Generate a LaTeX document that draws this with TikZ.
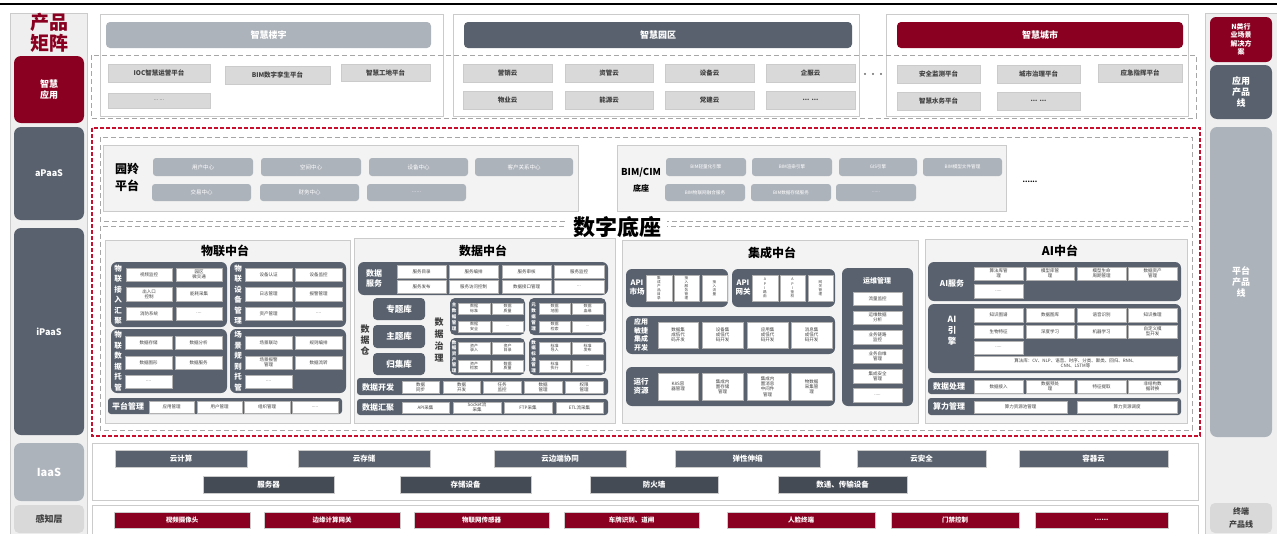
\documentclass[tikz,border=0pt]{standalone}
\usepackage{fontspec}
\setmainfont{Noto Sans CJK SC}
\usetikzlibrary{positioning}

\definecolor{brandred}{HTML}{8A0020}
\definecolor{slate}{HTML}{58616D}
\definecolor{deepslate}{HTML}{454B55}
\definecolor{mist}{HTML}{ADB3BB}
\definecolor{chip}{HTML}{D9D9D9}
\definecolor{rim}{HTML}{CBCBCB}
\definecolor{pane}{HTML}{F3F3F3}
\definecolor{side}{HTML}{EFEFEF}
\definecolor{alarm}{HTML}{C8102E}
\definecolor{ink}{HTML}{404040}

% box from its top left to its bottom right corner, in pixels
\newcommand{\blk}[7]{\node[#1,anchor=north west,minimum width={(#5)-(#3)},minimum height={(#6)-(#4)}] (#2) at (#3,#4) {#7};}

\tikzset{
  every node/.style={inner sep=0pt,outer sep=0pt,align=center},
  sidebar/.style={fill=side,draw=rim,line width=.6pt},
  tile/.style={rounded corners=7pt,text=white,font=\bfseries\fontsize{9}{11}\selectfont},
  redtile/.style={tile,fill=brandred},
  slatetile/.style={tile,fill=slate},
  misttile/.style={tile,fill=mist},
  chiptile/.style={tile,fill=chip,text=ink},
  group/.style={draw=rim,fill=white,line width=.6pt},
  headbar/.style={rounded corners=4pt,text=white,font=\bfseries\fontsize{9}{11}\selectfont},
  appitem/.style={fill=chip,draw=rim,line width=.4pt,text=ink,font=\bfseries\fontsize{6.5}{8}\selectfont},
  greydash/.style={draw=gray!70,dash pattern=on 5pt off 3pt,line width=.8pt},
  reddash/.style={draw=alarm,dash pattern=on 4pt off 2pt,line width=1.5pt},
  panel/.style={fill=pane,draw=rim,line width=.6pt},
  pill/.style={fill=mist,rounded corners=3pt,text=white,font=\fontsize{5.5}{6.5}\selectfont},
  block/.style={fill=slate,rounded corners=6pt},
  bar/.style={fill=slate,rounded corners=3pt},
  wbox/.style={fill=white,draw=gray!60,line width=.4pt,text=ink,font=\fontsize{4.5}{5.2}\selectfont},
  blabel/.style={text=white,font=\bfseries\fontsize{7.5}{9}\selectfont},
  vlabel/.style={text=white,font=\bfseries\fontsize{7.5}{10.5}\selectfont},
  hubtitle/.style={font=\bfseries\fontsize{12}{14}\selectfont},
  storebox/.style={fill=slate,rounded corners=4pt,text=white,font=\bfseries\fontsize{8.5}{10}\selectfont},
  cloudbox/.style={fill=slate,draw=rim,line width=.4pt,text=white,font=\bfseries\fontsize{7.5}{9}\selectfont},
  devbox/.style={cloudbox,fill=deepslate},
  sensorbox/.style={cloudbox,fill=brandred,font=\bfseries\fontsize{6.5}{8}\selectfont}
}

\begin{document}
\begin{tikzpicture}[x=1pt,y=-1pt]
\useasboundingbox (0,0) rectangle (1277,533);
\draw[line width=2.6pt] (0,4) -- (1277,4);

% side columns
\blk{sidebar}{leftcol}{10}{13}{87}{540}{}
\blk{sidebar}{rightcol}{1205}{13}{1277}{540}{}
\node[text=brandred,font=\bfseries\fontsize{19}{21}\selectfont] (matrix) at (49,33) {产品\\矩阵};
\blk{redtile}{smart}{14}{56}{84}{123}{智慧\\应用}
\blk{slatetile}{apaas}{14}{127}{84}{220}{aPaaS}
\blk{slatetile}{ipaas}{14}{228}{84}{435}{iPaaS}
\blk{misttile,font=\bfseries\fontsize{11}{13}\selectfont}{iaas}{14}{443}{84}{501}{IaaS}
\blk{chiptile,rounded corners=5pt}{sense}{14}{505}{84}{533}{感知层}
\blk{redtile,rounded corners=6pt,font=\bfseries\fontsize{7}{8.5}\selectfont}{nsol}{1210}{17}{1272}{62}{N类行\\业场景\\解决方\\案}
\blk{slatetile}{appline}{1210}{65}{1272}{119}{应用\\产品\\线}
\blk{misttile}{platline}{1210}{127}{1272}{437}{平台\\产品\\线}
\blk{chiptile,rounded corners=5pt,font=\bfseries\fontsize{8}{13}\selectfont}{termline}{1210}{503}{1272}{533}{终端\\产品线}

% smart applications
\blk{group}{bldg}{100}{14}{443}{116}{}
\blk{headbar,fill=mist}{bldghd}{106}{22}{431}{48}{智慧楼宇}
\blk{appitem}{ioc}{108}{64}{210}{82}{IOC智慧运营平台}
\blk{appitem}{twin}{225}{66}{330}{84}{BIM数字孪生平台}
\blk{appitem}{site}{341}{64}{430}{81}{智慧工地平台}
\blk{appitem,font=\fontsize{5}{6}\selectfont}{bldgmore}{108}{93}{210}{108}{... ...}

\blk{group}{park}{453}{14}{859}{116}{}
\blk{headbar,fill=slate}{parkhd}{464}{22}{852}{48}{智慧园区}
\foreach \nm/\xa/\xb/\ya/\yb/\tx in {mkt/463/552/64/82/营销云, asset/565/653/64/82/资管云,
    equip/665/754/64/82/设备云, biz/766/855/64/82/企服云, prop/463/552/91/109/物业云,
    energy/565/653/91/109/能源云, party/665/754/91/109/党建云, parkmore/766/855/91/109/{... ...}}
  {\blk{appitem}{\nm}{\xa}{\ya}{\xb}{\yb}{\tx}}
\node[text=gray,font=\bfseries\fontsize{8}{8}\selectfont] (gap) at (873,75) {···};

\blk{group}{city}{886}{14}{1188}{116}{}
\blk{headbar,fill=brandred}{cityhd}{897}{22}{1183}{48}{智慧城市}
\foreach \nm/\xa/\xb/\ya/\yb/\tx in {safe/897/980/65/83/安全监测平台, govern/997/1080/65/83/城市治理平台,
    rescue/1098/1182/64/82/应急指挥平台, water/897/980/92/110/智慧水务平台, citymore/997/1080/92/110/{... ...}}
  {\blk{appitem}{\nm}{\xa}{\ya}{\xb}{\yb}{\tx}}
\draw[greydash] (91,55) rectangle (1196,118);

% digital base
\draw[reddash] (92,128) rectangle (1200,436);
\draw[greydash] (100,137) rectangle (1192,221);
\draw[greydash] (100,226) rectangle (1192,430);

\blk{panel}{yuanling}{103}{145}{578}{211}{}
\node[font=\bfseries\fontsize{12}{17}\selectfont] (yllbl) at (127,177) {园羚\\平台};
\foreach \nm/\xa/\xb/\ya/\yb/\tx in {user/153/253/158/176/用户中心, space/261/361/158/176/空间中心,
    device/369/468/158/176/设备中心, crm/475/573/158/176/客户关系中心, trade/152/251/184/201/交易中心,
    finance/260/359/184/201/财务中心, ylmore/367/466/184/201/{......}}
  {\blk{pill}{\nm}{\xa}{\ya}{\xb}{\yb}{\tx}}

\blk{panel}{bimcim}{617}{145}{1006}{211}{}
\node[font=\bfseries\fontsize{9.5}{16}\selectfont] (bimlbl) at (641,180) {BIM/CIM\\\fontsize{8}{10}\selectfont 底座};
\foreach \nm/\xa/\xb/\ya/\yb/\tx in {light/666/746/158/176/BIM轻量化引擎, render/752/832/158/176/BIM渲染引擎,
    gis/839/917/158/176/GIS引擎, model/923/1002/158/176/BIM模型文件管理, fuse/665/745/184/201/BIM物联网融合服务,
    store/751/831/184/201/BIM数据存储服务, bimmore/836/916/184/201/{......}}
  {\blk{pill,font=\fontsize{4.6}{5.5}\selectfont}{\nm}{\xa}{\ya}{\xb}{\yb}{\tx}}
\node[font=\bfseries\fontsize{7}{7}\selectfont] (apmore) at (1030,182) {......};
\node[fill=white,inner xsep=6pt,font=\bfseries\fontsize{22}{24}\selectfont] (base) at (617,227) {数字底座};

% IoT hub
\blk{panel}{iot}{105}{240}{350}{423}{}
\node[hubtitle] (iottitle) at (225,251) {物联中台};
\blk{block}{iotin}{111}{262}{227}{327}{}
\node[vlabel] (iotinlbl) at (118,294.5) {物\\联\\接\\入\\汇\\聚};
\blk{block}{iotdev}{230}{262}{346}{327}{}
\node[vlabel] (iotdevlbl) at (238,294.5) {物\\联\\设\\备\\管\\理};
\blk{block}{iotdata}{111}{329}{227}{393}{}
\node[vlabel] (iotdatalbl) at (118,361) {物\\联\\数\\据\\托\\管};
\blk{block}{iotrule}{230}{329}{346}{393}{}
\node[vlabel] (iotrulelbl) at (238,361) {场\\景\\规\\则\\托\\管};
\foreach \nm/\xa/\xb/\ya/\yb/\tx in {
    video/126/172/268/281/视频监控, traffic/176/222/268/281/{园区\\微交通},
    gate/126/172/287/301/{出入口\\控制}, meter/176/222/287/301/能耗采集,
    fire/126/172/307/320/消防系统, inmore/176/222/307/320/{....},
    auth/245/292/268/281/设备认证, watch/295/342/268/281/设备监控,
    log/245/292/287/301/日志管理, alert/295/342/287/301/报警管理,
    prop/245/292/307/320/资产管理, devmore/295/342/307/320/{....},
    keep/125/172/336/349/数据存储, anal/175/222/336/349/数据分析,
    graph/125/172/356/369/数据图形, serve/175/222/356/369/数据服务,
    datamore/125/172/375/388/{....},
    link/245/292/336/349/场景联动, orch/295/342/336/349/规则编排,
    scal/245/292/356/369/{场景报警\\管理}, flow/295/342/356/369/数据流转,
    rulemore/245/292/375/388/{....}}
  {\blk{wbox}{\nm}{\xa}{\ya}{\xb}{\yb}{\tx}}
\blk{bar}{iotmgr}{108}{398}{342}{414}{}
\node[blabel,font=\bfseries\fontsize{8}{9}\selectfont] (iotmgrlbl) at (128,406) {平台管理};
\foreach \nm/\xa/\xb/\tx in {appmgr/149/194/应用管理, usermgr/197/242/用户管理, orgmgr/244/290/组织管理, mgrmore/292/338/{.....}}
  {\blk{wbox}{\nm}{\xa}{401}{\xb}{413}{\tx}}

% data hub
\blk{panel}{data}{354}{238}{615}{423}{}
\node[hubtitle] (datatitle) at (483,251) {数据中台};
\blk{block}{dsvc}{358}{262}{608}{295}{}
\node[blabel,font=\bfseries\fontsize{8}{10}\selectfont] (dsvclbl) at (374,278) {数据\\服务};
\foreach \nm/\xa/\xb/\ya/\yb/\tx in {
    catalog/397/446/265/278/服务目录, compose/449/498/265/278/服务编排,
    review/502/551/265/278/服务审核, monitor/554/604/265/278/服务监控,
    publish/397/446/280/293/服务发布, access/449/498/280/293/服务访问控制,
    quality/502/551/280/293/数据接口管理, svcmore/554/604/280/293/{...}}
  {\blk{wbox}{\nm}{\xa}{\ya}{\xb}{\yb}{\tx}}
\node[text=ink,font=\bfseries\fontsize{9}{11}\selectfont] (whlbl) at (365,340) {数\\据\\仓};
\blk{storebox}{topic}{373}{298}{425}{320}{专题库}
\blk{storebox}{subject}{373}{325}{425}{348}{主题库}
\blk{storebox}{collect}{373}{353}{425}{375}{归集库}
\node[text=ink,font=\bfseries\fontsize{9}{12}\selectfont] (govlbl) at (439,340) {数\\据\\治\\理};
\blk{block,rounded corners=5pt}{master}{450}{298}{525}{335}{}
\blk{block,rounded corners=5pt}{meta}{529}{298}{606}{335}{}
\blk{block,rounded corners=5pt}{assets}{450}{338}{525}{375}{}
\blk{block,rounded corners=5pt}{standard}{529}{338}{606}{375}{}
\node[vlabel,font=\bfseries\fontsize{4.5}{6}\selectfont] (masterlbl) at (454,316.5) {主\\数\\据\\管\\理};
\node[vlabel,font=\bfseries\fontsize{4.5}{6}\selectfont] (metalbl) at (533.5,316.5) {元\\数\\据\\管\\理};
\node[vlabel,font=\bfseries\fontsize{4.5}{5.6}\selectfont] (assetslbl) at (454,356.5) {数\\据\\资\\产\\管\\理};
\node[vlabel,font=\bfseries\fontsize{4.5}{5.6}\selectfont] (standardlbl) at (533.5,356.5) {数\\据\\标\\准\\管\\理};
\foreach \nm/\xa/\xb/\ya/\yb/\tx in {
    std/458/490/303/314/{数据\\标准}, qual/492/523/303/314/{数据\\质量},
    sec/458/490/321/332/{数据\\安全}, mastermore/492/523/321/332/{...},
    map/539/570/303/314/{数据\\地图}, lineage/572/603/303/314/{数据\\血缘},
    search/539/570/321/332/{数据\\检索}, metamore/572/603/321/332/{...},
    enter/458/490/342/354/{资产\\录入}, dir/492/523/342/354/{资产\\目录},
    find/458/490/360/372/{资产\\检索}, aqual/492/523/360/372/{数据\\质量},
    import/539/570/342/354/{标准\\导入}, release/572/603/342/354/{标准\\发布},
    apply/539/570/360/372/{标准\\执行}, stdmore/572/603/360/372/{...}}
  {\blk{wbox,font=\fontsize{4}{4.6}\selectfont}{\nm}{\xa}{\ya}{\xb}{\yb}{\tx}}
\blk{bar}{ddev}{357}{378}{608}{395}{}
\node[blabel,font=\bfseries\fontsize{8}{9}\selectfont] (ddevlbl) at (378,387) {数据开发};
\foreach \nm/\xa/\xb/\tx in {sync/402/439/{数据\\同步}, develop/443/480/{数据\\开发}, task/483/521/{任务\\监控},
    dmgr/524/562/{数据\\管理}, perm/565/603/{权限\\管理}}
  {\blk{wbox}{\nm}{\xa}{381}{\xb}{393}{\tx}}
\blk{bar}{dgather}{357}{399}{608}{415}{}
\node[blabel,font=\bfseries\fontsize{8}{9}\selectfont] (dgatherlbl) at (378,407) {数据汇聚};
\foreach \nm/\xa/\xb/\tx in {api/402/449/API采集, socket/453/501/{Socket流\\采集}, ftp/504/552/FTP采集, etl/556/603/ETL流采集}
  {\blk{wbox}{\nm}{\xa}{402}{\xb}{413}{\tx}}

% integration hub
\blk{panel}{intg}{622}{240}{918}{423}{}
\node[hubtitle] (intgtitle) at (772,253) {集成中台};
\blk{block}{apimkt}{626}{269}{728}{307}{}
\node[blabel] (apimktlbl) at (637,288) {API\\市场};
\blk{block}{apigw}{732}{269}{835}{307}{}
\node[blabel] (apigwlbl) at (743,288) {API\\网关};
\foreach \nm/\xa/\xb/\tx in {prodlist/646/672/{集\\成\\产\\品\\目\\录}, svcmgr/674/699/{接\\入\\服\\务\\管\\理},
    inflow/702/727/{接\\入\\流\\量}, route/752/778/{A\\P\\I\\路\\由}, guard/780/805/{A\\P\\I\\鉴\\权},
    gwmgr/808/833/{网\\关\\管\\理}}
  {\blk{wbox,font=\fontsize{3.6}{4.1}\selectfont}{\nm}{\xa}{275}{\xb}{301}{\tx}}
\blk{block}{agile}{626}{316}{835}{354}{}
\node[blabel,font=\bfseries\fontsize{7}{8.5}\selectfont] (agilelbl) at (641,335) {应用\\敏捷\\集成\\开发};
\blk{block}{runres}{626}{367}{835}{406}{}
\node[blabel] (runreslbl) at (641,386.5) {运行\\资源};
\foreach \nm/\xa/\xb/\tx in {dlc/658/698/{数据集\\成低代\\码开发}, elc/702/743/{设备集\\成低代\\码开发},
    alc/747/788/{应用集\\成低代\\码开发}, mlc/791/832/{消息集\\成低代\\码开发}}
  {\blk{wbox}{\nm}{\xa}{322}{\xb}{348}{\tx}}
\foreach \nm/\xa/\xb/\tx in {k8s/658/698/{K8S容\\器管理}, istore/702/743/{集成内\\置存储\\管理},
    imsg/747/788/{集成内\\置消息\\中间件\\管理}, icap/791/832/{物数据\\采集管\\理}}
  {\blk{wbox}{\nm}{\xa}{373}{\xb}{400}{\tx}}
\blk{block}{ops}{842}{268}{913}{406}{}
\node[blabel,font=\bfseries\fontsize{7}{8}\selectfont] (opslbl) at (877,281) {运维管理};
\foreach \nm/\ya/\yb/\tx in {traffic2/292/305/流量监控, opsdata/311/324/{运维数据\\分析}, chain/330/344/{业务链路\\监控},
    selfops/349/363/{业务自维\\管理}, isec/369/383/{集成安全\\管理}, opsmore/388/402/{.....}}
  {\blk{wbox}{\nm}{853}{\ya}{902}{\yb}{\tx}}

% AI hub
\blk{panel}{ai}{925}{239}{1187}{423}{}
\node[hubtitle] (aititle) at (1060,251) {AI中台};
\blk{block}{aisvc}{928}{262}{1181}{301}{}
\node[blabel,font=\bfseries\fontsize{8}{9}\selectfont] (aisvclbl) at (952,283) {AI服务};
\blk{block}{aieng}{928}{304}{1181}{373}{}
\node[blabel,font=\bfseries\fontsize{8.5}{11}\selectfont] (aienglbl) at (952,331) {AI\\引\\擎};
\foreach \nm/\xa/\xb/\ya/\yb/\tx in {
    algo/974/1023/267/280/{算法库管\\理}, mlib/1026/1074/267/280/{模型库管\\理},
    life/1077/1126/267/280/{模型生命\\周期管理}, dasset/1128/1177/267/280/{数据资产\\管理},
    svcmore2/974/1023/284/298/{.....},
    kg/974/1023/308/322/知识图谱, gdb/1026/1074/308/322/数据图库,
    voice/1077/1126/308/322/语音识别, reason/1128/1177/308/322/知识推理,
    bio/974/1023/325/338/生物特征, deep/1026/1074/325/338/深度学习,
    ml/1077/1126/325/338/机器学习, custom/1128/1177/325/338/{自定义模\\型开发},
    engmore/974/1023/341/354/{.....},
    algos/974/1177/356/370/{算法库：CV、NLP、语音、时序、分类、聚类、回归、RNN、\\CNN、LSTM等}}
  {\blk{wbox}{\nm}{\xa}{\ya}{\xb}{\yb}{\tx}}
\blk{bar}{aiproc}{928}{378}{1181}{394}{}
\node[blabel,font=\bfseries\fontsize{8}{9}\selectfont] (aiproclbl) at (949,386) {数据处理};
\foreach \nm/\xa/\xb/\tx in {ingest/974/1023/数据接入, prep/1026/1074/{数据预处\\理}, feat/1077/1126/特征提取,
    unstr/1128/1177/{非结构数\\据转换}}
  {\blk{wbox}{\nm}{\xa}{380}{\xb}{393}{\tx}}
\blk{bar}{aicomp}{928}{398}{1181}{415}{}
\node[blabel,font=\bfseries\fontsize{8}{9}\selectfont] (aicomplbl) at (949,406.5) {算力管理};
\blk{wbox}{pool}{974}{401}{1067}{413}{算力资源池管理}
\blk{wbox}{sched}{1077}{401}{1177}{413}{算力资源调度}

% infrastructure
\blk{group}{infra}{92}{443}{1198}{500}{}
\foreach \nm/\xa/\xb/\tx in {compute/115/247/云计算, cstore/298/430/云存储, edge/494/626/云边端协同,
    elastic/675/820/弹性伸缩, csafe/857/986/云安全, container/1019/1168/容器云}
  {\blk{cloudbox}{\nm}{\xa}{450}{\xb}{467}{\tx}}
\foreach \nm/\xa/\xb/\tx in {server/203/334/服务器, disk/400/531/存储设备, wall/590/718/防火墙, net/778/907/数通、传输设备}
  {\blk{devbox}{\nm}{\xa}{476}{\xb}{493}{\tx}}

% sensing
\blk{group}{sensing}{92}{505}{1198}{540}{}
\foreach \nm/\xa/\xb/\tx in {camera/114/250/视频摄像头, egw/264/400/边缘计算网关, sensor/414/549/物联网传感器,
    plate/564/699/车牌识别、道闸, face/727/875/人脸终端, door/891/1019/门禁控制, sensemore/1035/1168/{......}}
  {\blk{sensorbox}{\nm}{\xa}{512}{\xb}{528}{\tx}}
\end{tikzpicture}
\end{document}
